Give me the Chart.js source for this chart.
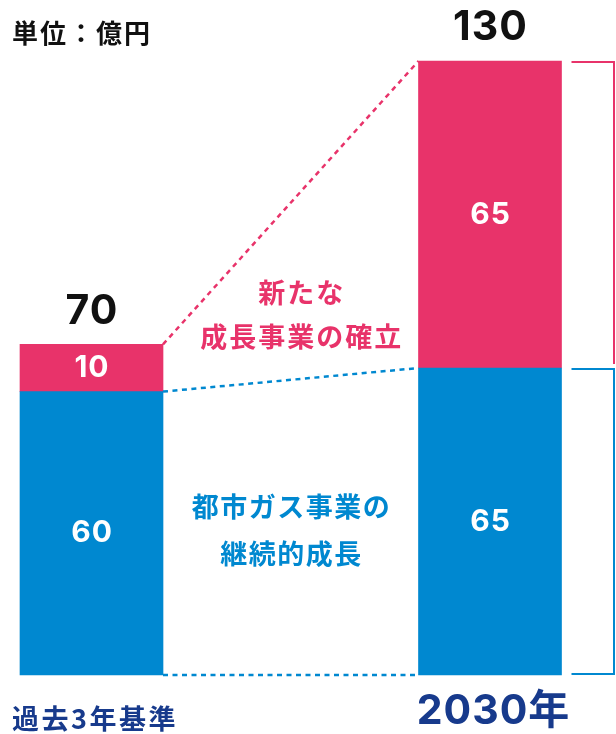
<!DOCTYPE html>
<html>
<head>
<meta charset="utf-8">
<script src="https://cdn.jsdelivr.net/npm/chart.js@4/dist/chart.umd.min.js"></script>
<style>
  html, body { margin: 0; padding: 0; background: #ffffff; }
  #wrap { width: 616px; height: 734px; }
</style>
</head>
<body>
<div id="wrap"><canvas id="c" width="616" height="734"></canvas></div>
<script>
// ---- data ----
const categories = ['過去3年基準', '2030年'];
const gasBusiness = [60, 65];      // 都市ガス事業
const newBusiness = [10, 65];      // 新たな成長事業
const totals = [70, 130];
const unitLabel = '単位：億円';
const newBizNote = ['新たな', '成長事業の確立'];
const gasNote = ['都市ガス事業の', '継続的成長'];

const PINK = '#e8336a';
const BLUE = '#0088d0';
const NAVY = '#173a8c';
const FONT = "'Noto Sans CJK JP', 'Noto Sans', sans-serif";
const NUMFONT = "Inter, 'Noto Sans CJK JP', sans-serif";

function txt(ctx, s, x, y, size, color, align, spacing, family) {
  ctx.save();
  ctx.font = 'bold ' + size + 'px ' + (family || FONT);
  ctx.fillStyle = color;
  ctx.textAlign = align || 'center';
  ctx.textBaseline = 'middle';
  let dx = 0;
  if (spacing) {
    ctx.letterSpacing = spacing + 'px';
    if (ctx.textAlign === 'center') dx = spacing / 2;
  }
  ctx.fillText(s, x + dx, y);
  ctx.restore();
}

function dotted(ctx, x1, y1, x2, y2, color) {
  ctx.save();
  ctx.strokeStyle = color;
  ctx.lineWidth = 2.5;
  ctx.setLineDash([5, 4.5]);
  ctx.beginPath();
  ctx.moveTo(x1, y1);
  ctx.lineTo(x2, y2);
  ctx.stroke();
  ctx.restore();
}

const overlay = {
  id: 'overlay',
  afterDatasetsDraw(chart) {
    const ctx = chart.ctx;
    const gasEls = chart.getDatasetMeta(0).data;
    const newEls = chart.getDatasetMeta(1).data;
    const L = 0, R = 1;
    const hw = (el) => el.width / 2;

    // connecting dotted lines
    dotted(ctx, newEls[L].x + hw(newEls[L]), newEls[L].y, newEls[R].x - hw(newEls[R]), newEls[R].y, PINK);
    dotted(ctx, gasEls[L].x + hw(gasEls[L]), gasEls[L].y, gasEls[R].x - hw(gasEls[R]), gasEls[R].y, BLUE);
    dotted(ctx, gasEls[L].x + hw(gasEls[L]), gasEls[L].base, gasEls[R].x - hw(gasEls[R]), gasEls[R].base, BLUE);

    // segment value labels
    [gasEls, newEls].forEach((els, di) => {
      const vals = di === 0 ? gasBusiness : newBusiness;
      els.forEach((el, i) => {
        txt(ctx, String(vals[i]), el.x, (el.y + el.base) / 2, 30, '#ffffff', 'center', 1, NUMFONT);
      });
    });

    // totals
    newEls.forEach((el, i) => {
      txt(ctx, String(totals[i]), el.x, el.y - 33, 41, '#111111', 'center', 1, NUMFONT);
    });

    // right brackets
    const r = newEls[R];
    const bx1 = r.x + hw(r) + 10;
    const bx2 = chart.width - 2;
    ctx.save();
    ctx.lineWidth = 2;
    ctx.strokeStyle = PINK;
    ctx.beginPath();
    ctx.moveTo(bx1, r.y + 1);
    ctx.lineTo(bx2, r.y + 1);
    ctx.lineTo(bx2, r.base - 4);
    ctx.stroke();
    const g = gasEls[R];
    ctx.strokeStyle = BLUE;
    ctx.beginPath();
    ctx.moveTo(bx1, g.y + 1);
    ctx.lineTo(bx2, g.y + 1);
    ctx.lineTo(bx2, g.base - 1);
    ctx.lineTo(bx1, g.base - 1);
    ctx.stroke();
    ctx.restore();

    // annotations between bars
    const midX = ((gasEls[L].x + hw(gasEls[L])) + (gasEls[R].x - hw(gasEls[R]))) / 2;
    txt(ctx, newBizNote[0], midX + 10, 293, 27, PINK, 'center', 2);
    txt(ctx, newBizNote[1], midX + 10, 337, 27, PINK, 'center', 2);
    txt(ctx, gasNote[0], midX, 507, 27, BLUE, 'center', 1.5);
    txt(ctx, gasNote[1], midX, 554, 27, BLUE, 'center', 1.5);

    // unit
    txt(ctx, unitLabel, 12, 33, 26, '#111111', 'left', 2);

    // category labels
    txt(ctx, categories[0], gasEls[L].x - hw(gasEls[L]) - 8, 719, 27, NAVY, 'left', 2.5);
    txt(ctx, categories[1], gasEls[R].x + 3, 712, 41, NAVY, 'center', 1, NUMFONT);
  }
};

new Chart(document.getElementById('c'), {
  type: 'bar',
  data: {
    labels: categories,
    datasets: [
      { label: '都市ガス事業', data: gasBusiness, backgroundColor: BLUE, clip: false, barThickness: 143 },
      { label: '新たな成長事業', data: newBusiness, backgroundColor: PINK, clip: false, barThickness: 143 }
    ]
  },
  options: {
    responsive: false,
    animation: false,
    devicePixelRatio: 1,
    layout: { padding: { left: 91.5, right: 126, top: 61, bottom: 59 } },
    plugins: { legend: { display: false }, tooltip: { enabled: false } },
    scales: {
      x: { stacked: true, display: false, offset: false, grid: { display: false } },
      y: { stacked: true, display: false, min: 0, max: 130, grid: { display: false } }
    }
  },
  plugins: [overlay]
});
</script>
</body>
</html>
